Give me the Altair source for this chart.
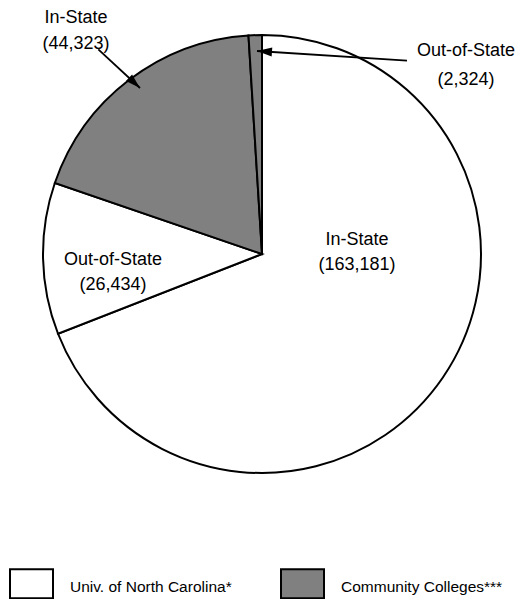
import math
import altair as alt
import pandas as pd

# ---- data ----
institutions = ["Univ. of North Carolina*", "Univ. of North Carolina*",
                "Community Colleges***", "Community Colleges***"]
residency = ["In-State", "Out-of-State", "In-State", "Out-of-State"]
students = [163181, 26434, 44323, 2324]
legend_domain = ["Univ. of North Carolina*", "Community Colleges***"]
legend_colors = ["#ffffff", "#808080"]

# ---- annotation layout (pixels, chart coordinates) ----
label_x = [349, 105, 68, 458]
label_y1 = [232, 252, 10, 43]
label_y2 = [257, 277, 36, 72]
arrow_from = [None, None, (90.3, 41.3), (399, 52.7)]
arrow_to = [None, None, (132, 80), (249, 43)]

W, H = 513, 591
CX, CY, R = 254, 246, 219
FONT = "Liberation Sans"

pie_df = pd.DataFrame({
    "institution": institutions,
    "residency": residency,
    "students": students,
    "idx": list(range(len(students))),
})

lab_df = pd.DataFrame({
    "name": residency,
    "value": [f"({v:,})" for v in students],
    "x": label_x,
    "y1": label_y1,
    "y2": label_y2,
})

arr_rows = []
for f, t in zip(arrow_from, arrow_to):
    if f is None:
        continue
    dx, dy = t[0] - f[0], t[1] - f[1]
    ang = math.degrees(math.atan2(dx, -dy)) % 360
    arr_rows.append({"x": f[0], "y": f[1], "x2": t[0], "y2": t[1], "ang": ang})
arr_df = pd.DataFrame(arr_rows)

pie = alt.Chart(pie_df).mark_arc(
    outerRadius=R, stroke="black", strokeWidth=2, opacity=1
).encode(
    theta=alt.Theta("students:Q", stack=True),
    order=alt.Order("idx:Q"),
    color=alt.Color(
        "institution:N",
        scale=alt.Scale(domain=legend_domain, range=legend_colors),
        legend=alt.Legend(
            title=None, orient="none", legendX=1, legendY=556.5,
            direction="horizontal",
            symbolType="M-1,-0.837H1V0.511H-1Z", symbolSize=1849,
            symbolStrokeColor="black", symbolStrokeWidth=2, symbolOpacity=1,
            labelFont=FONT, labelFontSize=15.5, labelColor="black",
            labelOffset=16, columnPadding=45, padding=0, labelLimit=400,
        ),
    ),
    x=alt.value(CX),
    y=alt.value(CY),
)

t1 = alt.Chart(lab_df).mark_text(
    font=FONT, fontSize=18, color="black", baseline="middle", align="center"
).encode(
    x=alt.X("x:Q", scale=None),
    y=alt.Y("y1:Q", scale=None),
    text="name:N",
)
t2 = alt.Chart(lab_df).mark_text(
    font=FONT, fontSize=18, color="black", baseline="middle", align="center"
).encode(
    x=alt.X("x:Q", scale=None),
    y=alt.Y("y2:Q", scale=None),
    text="value:N",
)

rules = alt.Chart(arr_df).mark_rule(color="black", strokeWidth=1.8).encode(
    x=alt.X("x:Q", scale=None),
    y=alt.Y("y:Q", scale=None),
    x2="x2:Q",
    y2="y2:Q",
)
heads = alt.Chart(arr_df).mark_point(
    shape="M0,0L-0.3,1L0.3,1Z", filled=True, size=900, color="black",
    opacity=1, strokeWidth=0,
).encode(
    x=alt.X("x2:Q", scale=None),
    y=alt.Y("y2:Q", scale=None),
    angle=alt.Angle("ang:Q", scale=None),
)

chart = alt.layer(pie, t1, t2, rules, heads).properties(
    width=W, height=H,
    autosize=alt.AutoSizeParams(type="none"),
    padding=0,
).configure_view(strokeWidth=0).resolve_scale(color="independent")

chart.save("out.html", embed_options={"renderer": "svg", "actions": False})
